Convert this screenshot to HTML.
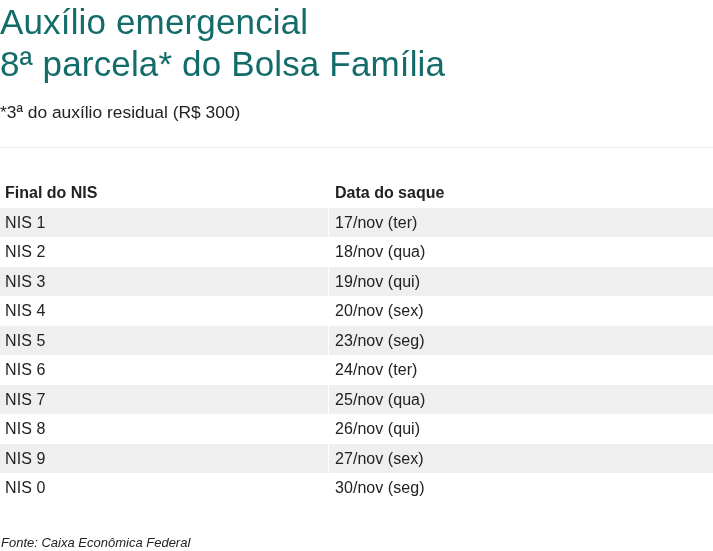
<!DOCTYPE html>
<html lang="pt-BR">
<head>
<meta charset="utf-8">
<title>Auxílio emergencial</title>
<style>
html,body{margin:0;padding:0;background:#fff;}
body{width:713px;height:551px;overflow:hidden;position:relative;will-change:transform;font-family:"Liberation Sans",sans-serif;color:#222;}
h1{position:absolute;left:0;top:1px;margin:0;font-weight:400;font-size:35px;line-height:42px;color:#136c6a;white-space:nowrap;letter-spacing:0.15px;}
.sub{position:absolute;left:0;top:101px;margin:0;font-size:17.4px;line-height:22px;color:#222;white-space:nowrap;}
.rule{position:absolute;left:0;top:147px;width:713px;height:1px;background:#eee;}
.tbl{position:absolute;left:0;top:0;width:713px;}
.r{position:absolute;left:0;width:713px;height:29px;font-size:16px;line-height:29px;white-space:nowrap;}
.r span{position:absolute;top:0;height:29px;padding-left:5px;box-sizing:border-box;letter-spacing:0.1px;}
.r .a{left:0;width:328px;}
.r .b{left:329px;width:384px;padding-left:6px;letter-spacing:0.05px;}
.r.g span{background:#efefef;}
.r.h{font-weight:700;}
.r.h span{letter-spacing:0;}
.src{position:absolute;left:1px;top:535px;margin:0;font-size:13px;line-height:16px;font-style:italic;color:#222;white-space:nowrap;}
</style>
</head>
<body>
<h1>Auxílio emergencial<br>8ª parcela* do Bolsa Família</h1>
<p class="sub">*3ª do auxílio residual (R$ 300)</p>
<div class="rule"></div>
<div class="tbl">
<div class="r h" style="top:178px"><span class="a">Final do NIS</span><span class="b">Data do saque</span></div>
<div class="r g" style="top:208px"><span class="a">NIS 1</span><span class="b">17/nov (ter)</span></div>
<div class="r" style="top:237px"><span class="a">NIS 2</span><span class="b">18/nov (qua)</span></div>
<div class="r g" style="top:267px"><span class="a">NIS 3</span><span class="b">19/nov (qui)</span></div>
<div class="r" style="top:296px"><span class="a">NIS 4</span><span class="b">20/nov (sex)</span></div>
<div class="r g" style="top:326px"><span class="a">NIS 5</span><span class="b">23/nov (seg)</span></div>
<div class="r" style="top:355px"><span class="a">NIS 6</span><span class="b">24/nov (ter)</span></div>
<div class="r g" style="top:385px"><span class="a">NIS 7</span><span class="b">25/nov (qua)</span></div>
<div class="r" style="top:414px"><span class="a">NIS 8</span><span class="b">26/nov (qui)</span></div>
<div class="r g" style="top:444px"><span class="a">NIS 9</span><span class="b">27/nov (sex)</span></div>
<div class="r" style="top:473px"><span class="a">NIS 0</span><span class="b">30/nov (seg)</span></div>
</div>
<p class="src">Fonte: Caixa Econômica Federal</p>
</body>
</html>
